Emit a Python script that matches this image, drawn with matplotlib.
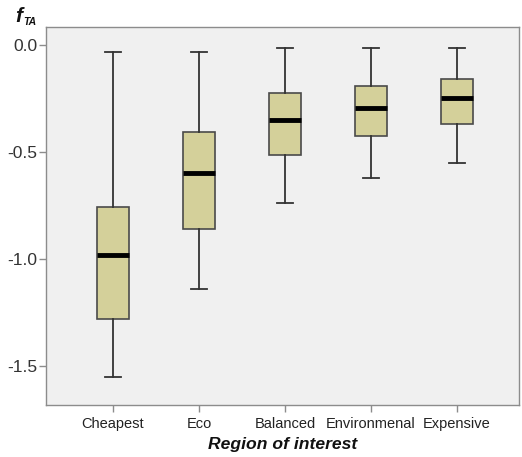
import matplotlib
matplotlib.use("Agg")
import matplotlib.pyplot as plt
from matplotlib.ticker import FuncFormatter

plt.rcParams['font.family'] = ['Liberation Sans', 'DejaVu Sans']

# data
regions = ['Cheapest', 'Eco', 'Balanced', 'Environmenal', 'Expensive']
whislo = [-1.553, -1.140, -0.738, -0.623, -0.553]
q1 = [-1.280, -0.860, -0.514, -0.425, -0.368]
med = [-0.981, -0.600, -0.352, -0.296, -0.249]
q3 = [-0.758, -0.407, -0.226, -0.190, -0.157]
whishi = [-0.033, -0.033, -0.016, -0.016, -0.016]

stats = []
for i in range(len(regions)):
    stats.append({'label': regions[i], 'whislo': whislo[i], 'q1': q1[i],
                  'med': med[i], 'q3': q3[i], 'whishi': whishi[i], 'fliers': []})

fig = plt.figure(figsize=(5.22, 4.57), dpi=100)
ax = fig.add_axes([0.088, 0.114, 0.906, 0.827])
ax.set_facecolor('#f0f0f0')

ax.bxp(stats, positions=range(1, 6), widths=0.38, patch_artist=True,
       showfliers=False,
       boxprops=dict(facecolor='#d4d09a', edgecolor='#4a4a4a', linewidth=1.2),
       medianprops=dict(color='black', linewidth=3.5),
       whiskerprops=dict(color='#333333', linewidth=1.3),
       capprops=dict(color='#333333', linewidth=1.3),
       capwidths=0.19)

ax.set_xlim(0.22, 5.72)
ax.set_ylim(-1.682, 0.084)
ax.set_yticks([0.0, -0.5, -1.0, -1.5])
ax.yaxis.set_major_formatter(FuncFormatter(lambda v, p: ('%.1f' % v).replace('\u2212', '-')))

for s in ax.spines.values():
    s.set_color('#8c8c8c')
    s.set_linewidth(1.0)
ax.tick_params(axis='y', colors='#8c8c8c', labelcolor='#333333', labelsize=12.5,
               length=5, width=1, pad=1)
ax.tick_params(axis='x', colors='#8c8c8c', labelcolor='#222222', labelsize=10.5,
               length=5, width=1, pad=4)

ax.set_xlabel('Region of interest', fontsize=12.6, fontweight='bold', fontstyle='italic',
              color='#111111', labelpad=4)

fig.text(0.030, 0.952, 'f', fontsize=15, fontweight='bold', fontstyle='italic', color='#111111')
fig.text(0.045, 0.945, 'TA', fontsize=7.5, fontweight='bold', fontstyle='italic', color='#111111')

fig.savefig('out.png', dpi=100)
